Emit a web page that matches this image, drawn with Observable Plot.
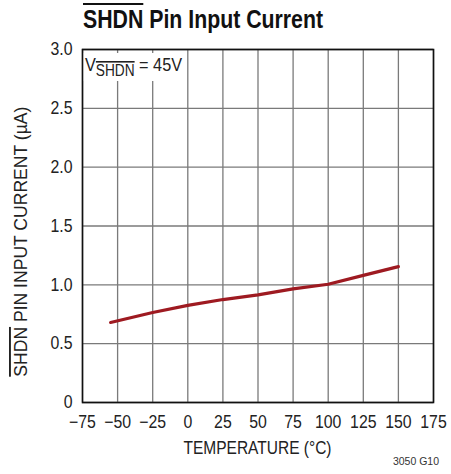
<!DOCTYPE html>
<html><head><meta charset="utf-8">
<script src="https://cdn.jsdelivr.net/npm/d3@7"></script>
<script src="https://cdn.jsdelivr.net/npm/@observablehq/plot@0.6"></script>
<style>
body{margin:0;background:#fff;font-family:"Liberation Sans",Arial,sans-serif;}
#title{height:40px;position:relative;overflow:hidden;}
#tt{position:absolute;left:83px;top:7px;font-weight:bold;font-size:25px;line-height:25px;white-space:nowrap;color:#111;transform-origin:0 0;}
.ov{text-decoration:overline;}
</style></head>
<body>
<div id="title"><div id="tt"><span class="ov">SHDN</span> Pin Input Current</div></div>
<div id="chart"></div>
<script>
const temperature = [-55, -25, 0, 25, 50, 75, 100, 125, 150];
const current = [0.68, 0.765, 0.825, 0.875, 0.915, 0.965, 1.005, 1.08, 1.155];
const xTicks = [-75, -50, -25, 0, 25, 50, 75, 100, 125, 150, 175];
const yTicks = [0, 0.5, 1.0, 1.5, 2.0, 2.5, 3.0];
const data = temperature.map((t, i) => ({t, c: current[i]}));

const W = 451, H = 434, mL = 82, mR = 18, mT = 9, mB = 72;
const font = '"Liberation Sans",Arial,sans-serif';

const plot = Plot.plot({
  width: W, height: H,
  marginLeft: mL, marginRight: mR, marginTop: mT, marginBottom: mB,
  style: {fontFamily: font, fontSize: "18px", color: "#222", background: "#fff"},
  x: {domain: [-75, 175], ticks: xTicks, tickFormat: d3.format(""), label: null, tickSize: 0, tickPadding: 13},
  y: {domain: [0, 3], ticks: yTicks, tickFormat: d => d === 0 ? "0" : d.toFixed(1), label: null, tickSize: 0, tickPadding: 10},
  marks: [
    Plot.gridX(xTicks, {stroke: "#7a7a7a", strokeOpacity: 1, strokeWidth: 1.3}),
    Plot.gridY(yTicks, {stroke: "#7a7a7a", strokeOpacity: 1, strokeWidth: 1.3}),
    Plot.line(data, {x: "t", y: "c", stroke: "#9e1a21", strokeWidth: 3.2}),
    Plot.frame({stroke: "#111", strokeWidth: 1.6})
  ]
});
document.getElementById("chart").appendChild(plot);

function squeeze(el, target) {
  el.setAttribute("textLength", target);
  el.setAttribute("lengthAdjust", "spacingAndGlyphs");
}

const svg = d3.select(plot);
// condense the tick labels drawn by Plot
svg.selectAll("text").each(function() {
  const L = this.getComputedTextLength();
  if (L > 0) squeeze(this, L * 0.88);
});

// legend label inside plot, on a white patch placed beneath the frame
const frameNode = svg.select("[aria-label=frame]").node();
const legG = svg.insert("g", () => frameNode);
const patch = legG.append("rect").attr("fill", "#fff");
const leg = legG.append("text")
  .attr("x", mL + 3).attr("y", 31).attr("text-anchor", "start")
  .attr("font-family", font).attr("font-size", 19).attr("fill", "#222");
const t1 = leg.append("tspan").text("V");
const t2 = leg.append("tspan").attr("font-size", 16).attr("dy", 5).style("text-decoration", "overline").text("SHDN");
const t3 = leg.append("tspan").attr("dy", -5).text(" = 45V");
[t1, t2, t3].forEach(t => squeeze(t.node(), t.node().getComputedTextLength() * 0.855));
const bb = leg.node().getBBox();
patch.attr("x", mL).attr("y", bb.y - 1)
  .attr("width", bb.x + bb.width + 3 - mL).attr("height", bb.height + 3);

// y axis label
const yl = svg.append("text")
  .attr("transform", `translate(27,${241.7 - 40}) rotate(-90)`)
  .attr("text-anchor", "middle")
  .attr("font-family", font).attr("font-size", 19).attr("fill", "#222");
yl.append("tspan").style("text-decoration", "overline").text("SHDN");
yl.append("tspan").text(" PIN INPUT CURRENT (µA)");
squeeze(yl.node(), 270);

// x axis label
const xl = svg.append("text")
  .attr("x", 257.5).attr("y", 414)
  .attr("text-anchor", "middle")
  .attr("font-family", font).attr("font-size", 18).attr("fill", "#222")
  .text("TEMPERATURE (°C)");
squeeze(xl.node(), 148);

// figure code
svg.append("text")
  .attr("x", 439).attr("y", 425)
  .attr("text-anchor", "end")
  .attr("font-family", font).attr("font-size", 10.5).attr("fill", "#333")
  .text("3050 G10");

// condense title
const tt = document.getElementById("tt");
const tw = tt.getBoundingClientRect().width;
tt.style.transform = `scaleX(${240 / tw})`;
</script>
</body></html>
